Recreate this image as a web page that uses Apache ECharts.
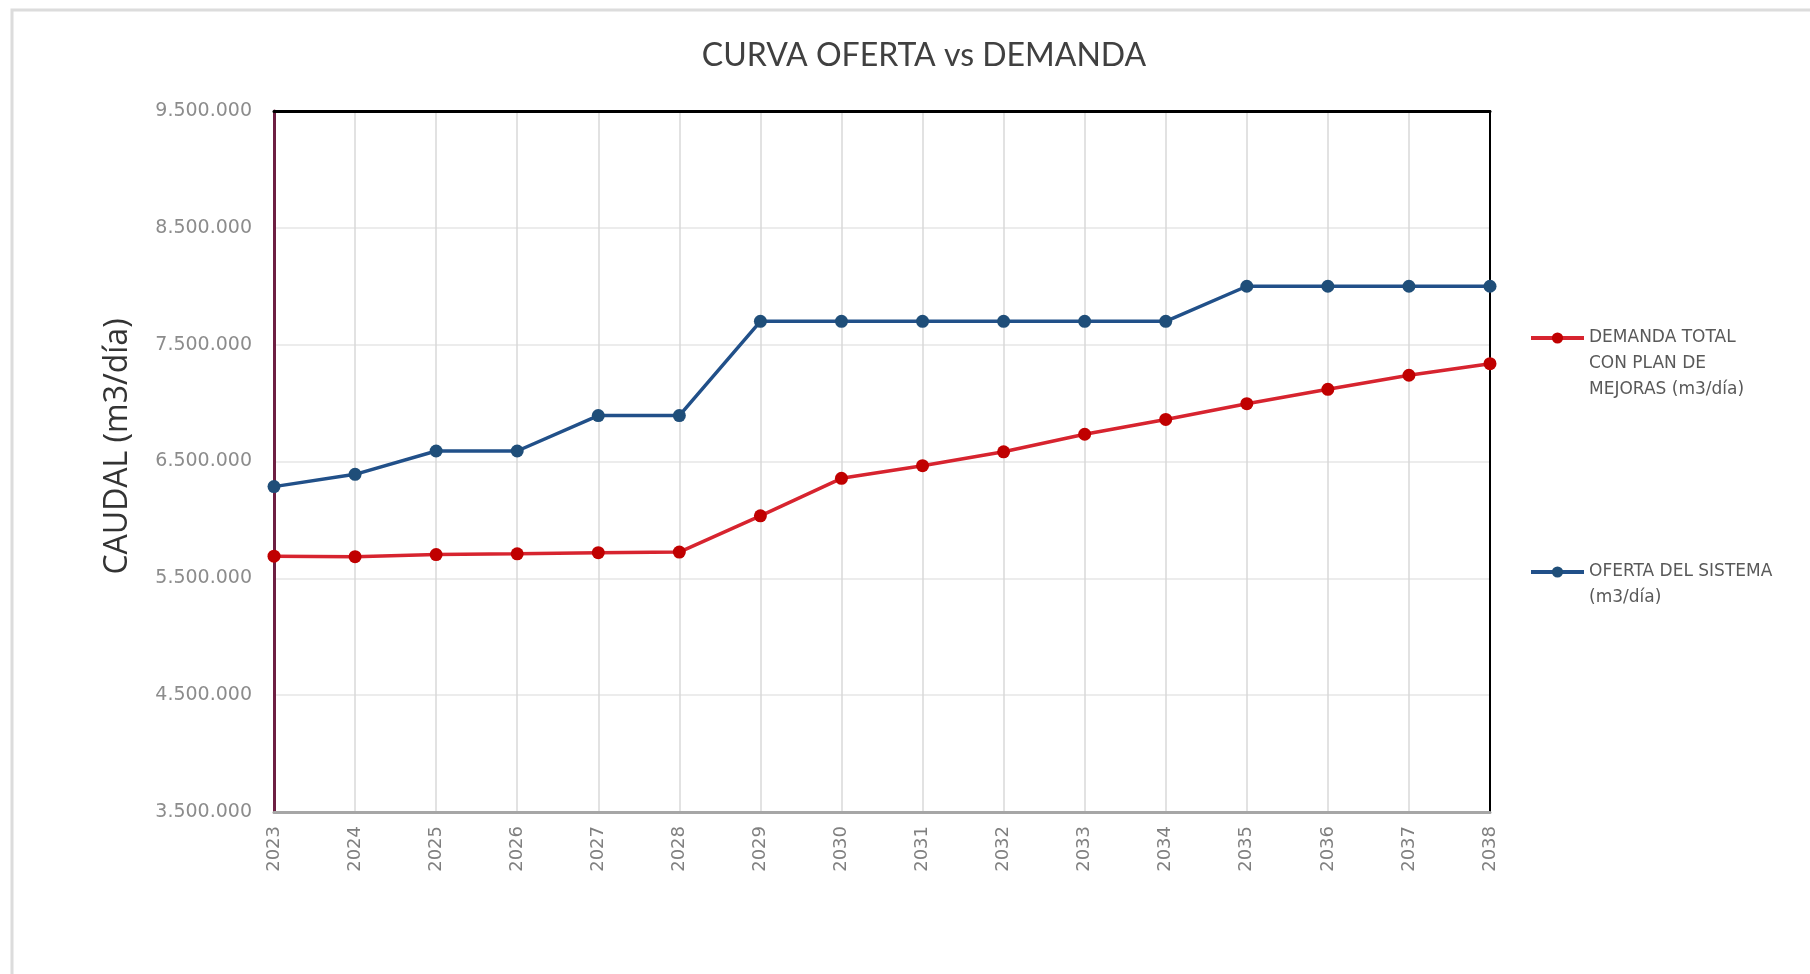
<!DOCTYPE html>
<html>
<head>
<meta charset="utf-8">
<title>CURVA OFERTA vs DEMANDA</title>
<script src="https://cdn.jsdelivr.net/npm/echarts@6/dist/echarts.min.js"></script>
<style>
  html, body { margin: 0; padding: 0; background: #ffffff; }
  #chart { width: 1810px; height: 974px; }
</style>
</head>
<body>
<div id="chart"></div>
<script>
// Years on the horizontal axis
const years = ['2023','2024','2025','2026','2027','2028','2029','2030',
               '2031','2032','2033','2034','2035','2036','2037','2038'];

// Total demand with improvement plan (m3/día)
const demandaName = 'DEMANDA TOTAL\nCON PLAN DE\nMEJORAS (m3/día)';
const demanda = [5690000, 5685000, 5703000, 5710000, 5720000, 5725000, 6035000, 6356000,
                 6464000, 6583000, 6733000, 6860000, 6995000, 7118000, 7238000, 7337000];

// System supply (m3/día)
const ofertaName = 'OFERTA DEL SISTEMA\n(m3/día)';
const oferta = [6285000, 6390000, 6590000, 6590000, 6893000, 6893000, 7700000, 7700000,
                7700000, 7700000, 7700000, 7700000, 8000000, 8000000, 8000000, 8000000];

// Value axis range; labels every million starting at 3.500.000
const yMin = 3500000;
const yMax = 9500000;
const yStep = 500000;
const labelEvery = 1000000;

function fmtThousands(v) {
  return String(Math.round(v)).replace(/\B(?=(\d{3})+(?!\d))/g, '.');
}

// Legend text: blank lines in front so the marker sits beside the first line
function legendText(name) {
  const n = name.split('\n').length;
  return '\n'.repeat(n - 1) + name;
}

const legendTextStyle = { fontFamily: 'DejaVu Sans', fontSize: 17, color: '#595959', lineHeight: 26 };

const chart = echarts.init(document.getElementById('chart'), null, { renderer: 'canvas' });

chart.setOption({
  animation: false,
  backgroundColor: '#ffffff',
  graphic: [{
    type: 'rect',
    z: -10,
    shape: { x: 12, y: 10, width: 1810, height: 1000 },
    style: { fill: 'none', stroke: '#dcdcdc', lineWidth: 3 }
  }],
  title: {
    text: 'CURVA OFERTA vs DEMANDA',
    left: 919,
    textAlign: 'center',
    top: 35,
    textStyle: { fontFamily: 'Lato', fontSize: 32, fontWeight: 'normal', color: '#404040' }
  },
  grid: {
    left: 274,
    right: 320,
    top: 111,
    bottom: 162,
    containLabel: false
  },
  legend: [{
    data: [demandaName],
    left: 1529,
    top: 273,
    padding: 0,
    itemWidth: 53,
    itemHeight: 14,
    lineStyle: { width: 4 },
    formatter: legendText,
    textStyle: legendTextStyle
  }, {
    data: [ofertaName],
    left: 1529,
    top: 533,
    padding: 0,
    itemWidth: 53,
    itemHeight: 14,
    lineStyle: { width: 4 },
    formatter: legendText,
    textStyle: legendTextStyle
  }],
  xAxis: [{
    type: 'category',
    data: years,
    boundaryGap: false,
    axisLine: { show: true, lineStyle: { color: '#a6a6a6', width: 3 } },
    axisTick: { show: false },
    splitLine: { show: true, interval: 0, lineStyle: { color: '#d9d9d9', width: 1.5 } },
    axisLabel: {
      rotate: 90,
      interval: 0,
      margin: 14,
      fontFamily: 'DejaVu Sans',
      fontSize: 18,
      color: '#7f7f7f'
    }
  }, {
    // frame line along the top of the plot
    type: 'category',
    data: years,
    position: 'top',
    boundaryGap: false,
    axisLine: { show: true, lineStyle: { color: '#000000', width: 3 } },
    axisTick: { show: false },
    axisLabel: { show: false },
    splitLine: { show: false }
  }],
  yAxis: [{
    type: 'value',
    min: yMin,
    max: yMax,
    interval: yStep,
    name: 'CAUDAL (m3/día)',
    nameLocation: 'middle',
    nameGap: 140,
    nameTextStyle: { fontFamily: 'Open Sans', fontSize: 32, color: '#333333', padding: [0, 0, 0, 30] },
    axisLine: { show: true, lineStyle: { color: '#6d1f42', width: 3 } },
    axisTick: { show: false },
    splitLine: { show: true, lineStyle: { color: ['#e6e6e6', 'rgba(0,0,0,0)'], width: 1.5 } },
    axisLabel: {
      margin: 22,
      fontFamily: 'DejaVu Sans',
      fontSize: 19,
      color: '#8c8c8c',
      formatter: function (v) {
        return (Math.round(v - yMin) % labelEvery === 0) ? fmtThousands(v) : '';
      }
    }
  }, {
    // frame line along the right side of the plot
    type: 'value',
    min: yMin,
    max: yMax,
    interval: yStep,
    position: 'right',
    axisLine: { show: true, lineStyle: { color: '#000000', width: 2 } },
    axisTick: { show: false },
    axisLabel: { show: false },
    splitLine: { show: false }
  }],
  series: [{
    name: demandaName,
    type: 'line',
    data: demanda,
    symbol: 'circle',
    symbolSize: 13,
    lineStyle: { color: '#d7242f', width: 3.5 },
    itemStyle: { color: '#c00000' },
    z: 3
  }, {
    name: ofertaName,
    type: 'line',
    data: oferta,
    symbol: 'circle',
    symbolSize: 13,
    lineStyle: { color: '#215089', width: 3.5 },
    itemStyle: { color: '#1f4e79' },
    z: 3
  }]
});
</script>
</body>
</html>
